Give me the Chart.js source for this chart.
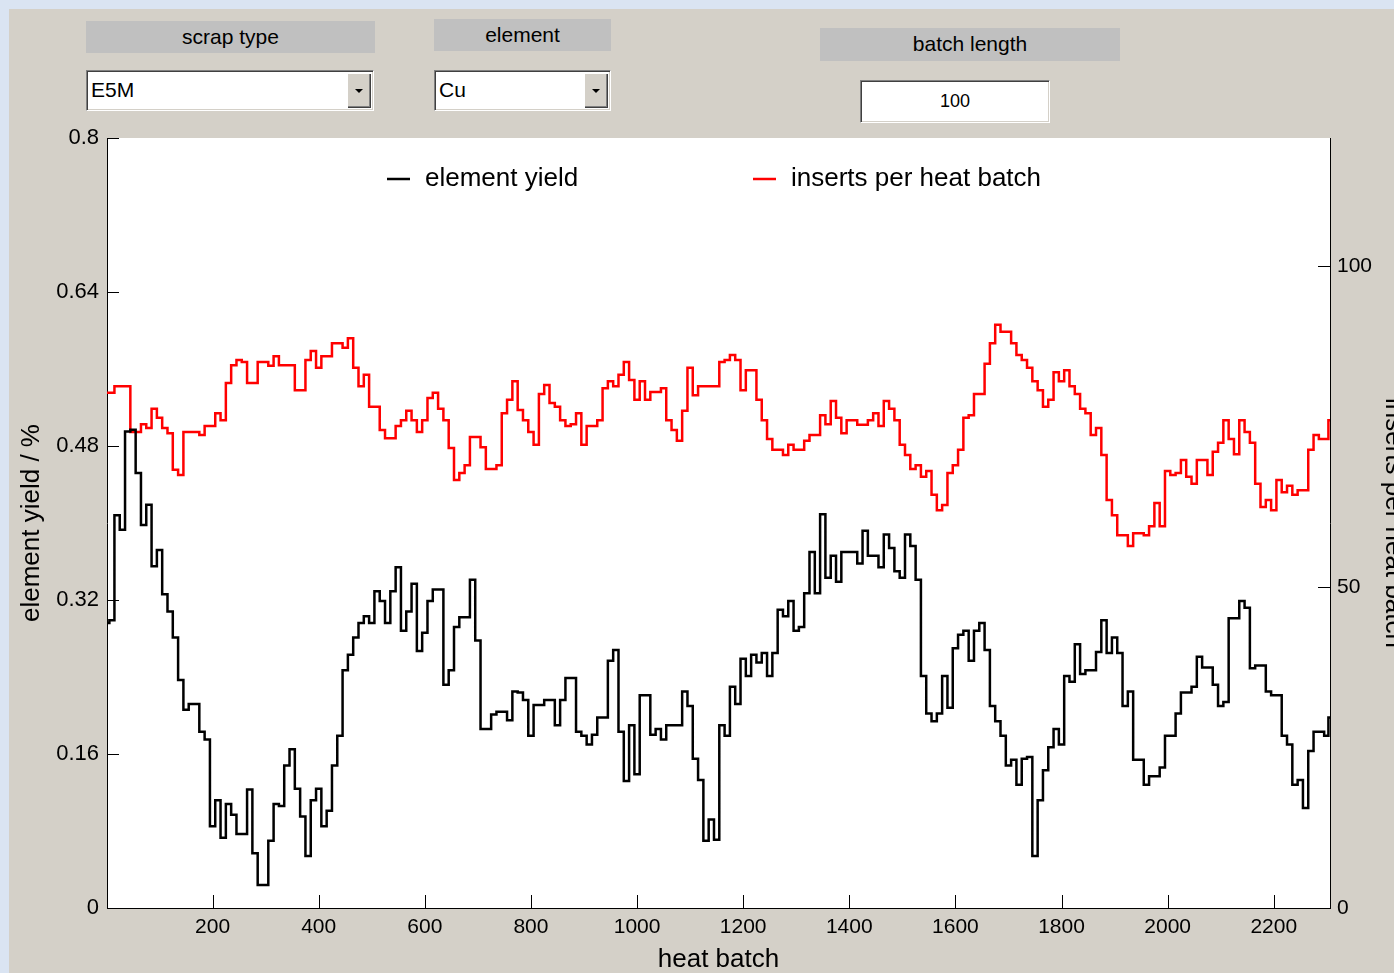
<!DOCTYPE html>
<html>
<head>
<meta charset="utf-8">
<title>Element yield per heat batch</title>
<script src="https://cdn.jsdelivr.net/npm/chart.js@4.4.1/dist/chart.umd.min.js"></script>
<style>
    body {
        margin: 0;
        width: 1394px;
        height: 973px;
        overflow: hidden;
        background: #dae4f2;
        font-family: "Liberation Sans", Arial, sans-serif;
    }
    .panel {
        position: absolute;
        left: 9px;
        top: 9px;
        right: 0;
        bottom: 0;
        background: #d4d0c8;
    }
    .lbl {
        position: absolute;
        background: #c0c0c0;
        font-size: 21px;
        color: #000;
        text-align: center;
        line-height: 32px;
    }
    .popup, .edit {
        position: absolute;
        background: #fff;
        box-sizing: border-box;
        border-top: 1px solid #808080;
        border-left: 1px solid #808080;
        border-right: 1px solid #fff;
        border-bottom: 1px solid #fff;
        box-shadow: inset 1px 1px 0 #404040, inset -1px -1px 0 #d4d0c8;
        font-size: 21px;
        color: #000;
    }
    .popup span {
        position: absolute;
        left: 4px;
        top: 7px;
    }
    .popup .arrow {
        position: absolute;
        right: 2px;
        top: 2px;
        bottom: 2px;
        width: 24px;
        background: #d4d0c8;
        box-shadow: inset 1px 1px 0 #fff, inset -1px -1px 0 #404040, inset -2px -2px 0 #808080;
    }
    .popup .arrow::after {
        content: "";
        position: absolute;
        left: 8px;
        top: 16px;
        border-left: 4px solid transparent;
        border-right: 4px solid transparent;
        border-top: 4px solid #000;
    }
    .edit {
        text-align: center;
        font-size: 18px;
        line-height: 40px;
    }
    #yieldChart {
        position: absolute;
        left: 0;
        top: 0;
    }
</style>
</head>
<body>
<div class="panel"></div>

<div class="lbl" style="left:86px; top:21px; width:289px; height:32px;">scrap type</div>
<div class="popup" style="left:86px; top:70px; width:288px; height:41px;"><span>E5M</span><div class="arrow"></div></div>

<div class="lbl" style="left:434px; top:19px; width:177px; height:32px;">element</div>
<div class="popup" style="left:434px; top:70px; width:177px; height:41px;"><span>Cu</span><div class="arrow"></div></div>

<div class="lbl" style="left:820px; top:28px; width:300px; height:33px;">batch length</div>
<div class="edit" style="left:860px; top:80px; width:190px; height:43px;">100</div>

<canvas id="yieldChart" width="1420" height="973"></canvas>

<script>
// heat batch positions of the sampled moving-window values
const heatBatch = [
    1, 10, 20, 30, 40, 50, 60, 70, 80, 90,
    100, 110, 120, 130, 140, 150, 160, 170, 180, 190,
    200, 210, 220, 230, 240, 250, 260, 270, 280, 290,
    300, 310, 320, 330, 340, 350, 360, 370, 380, 390,
    400, 410, 420, 430, 440, 450, 460, 470, 480, 490,
    500, 510, 520, 530, 540, 550, 560, 570, 580, 590,
    600, 610, 620, 630, 640, 650, 660, 670, 680, 690,
    700, 710, 720, 730, 740, 750, 760, 770, 780, 790,
    800, 810, 820, 830, 840, 850, 860, 870, 880, 890,
    900, 910, 920, 930, 940, 950, 960, 970, 980, 990,
    1000, 1010, 1020, 1030, 1040, 1050, 1060, 1070, 1080, 1090,
    1100, 1110, 1120, 1130, 1140, 1150, 1160, 1170, 1180, 1190,
    1200, 1210, 1220, 1230, 1240, 1250, 1260, 1270, 1280, 1290,
    1300, 1310, 1320, 1330, 1340, 1350, 1360, 1370, 1380, 1390,
    1400, 1410, 1420, 1430, 1440, 1450, 1460, 1470, 1480, 1490,
    1500, 1510, 1520, 1530, 1540, 1550, 1560, 1570, 1580, 1590,
    1600, 1610, 1620, 1630, 1640, 1650, 1660, 1670, 1680, 1690,
    1700, 1710, 1720, 1730, 1740, 1750, 1760, 1770, 1780, 1790,
    1800, 1810, 1820, 1830, 1840, 1850, 1860, 1870, 1880, 1890,
    1900, 1910, 1920, 1930, 1940, 1950, 1960, 1970, 1980, 1990,
    2000, 2010, 2020, 2030, 2040, 2050, 2060, 2070, 2080, 2090,
    2100, 2110, 2120, 2130, 2140, 2150, 2160, 2170, 2180, 2190,
    2200, 2210, 2220, 2230, 2240, 2250, 2260, 2270, 2280, 2290,
    2300, 2306
];

// element yield / %
const elementYield = [
    0.296, 0.299, 0.408, 0.393, 0.495, 0.497, 0.452, 0.398, 0.419, 0.355,
    0.372, 0.326, 0.308, 0.281, 0.237, 0.206, 0.212, 0.212, 0.183, 0.175,
    0.085, 0.112, 0.073, 0.108, 0.097, 0.077, 0.077, 0.123, 0.057, 0.024,
    0.024, 0.070, 0.108, 0.106, 0.148, 0.165, 0.124, 0.095, 0.054, 0.112,
    0.124, 0.085, 0.101, 0.148, 0.179, 0.247, 0.263, 0.281, 0.296, 0.303,
    0.296, 0.329, 0.319, 0.296, 0.329, 0.354, 0.288, 0.308, 0.337, 0.267,
    0.286, 0.319, 0.331, 0.331, 0.232, 0.247, 0.292, 0.302, 0.302, 0.341,
    0.278, 0.186, 0.186, 0.201, 0.204, 0.204, 0.195, 0.225, 0.224, 0.216,
    0.179, 0.211, 0.211, 0.216, 0.216, 0.190, 0.216, 0.239, 0.239, 0.183,
    0.179, 0.170, 0.180, 0.198, 0.198, 0.257, 0.268, 0.183, 0.132, 0.190,
    0.139, 0.221, 0.221, 0.180, 0.186, 0.175, 0.190, 0.190, 0.190, 0.225,
    0.210, 0.155, 0.133, 0.070, 0.092, 0.071, 0.190, 0.179, 0.230, 0.212,
    0.259, 0.241, 0.263, 0.255, 0.265, 0.241, 0.265, 0.310, 0.303, 0.319,
    0.288, 0.292, 0.327, 0.370, 0.327, 0.409, 0.343, 0.366, 0.339, 0.370,
    0.370, 0.370, 0.358, 0.392, 0.366, 0.366, 0.354, 0.388, 0.374, 0.350,
    0.343, 0.388, 0.376, 0.341, 0.241, 0.202, 0.194, 0.202, 0.241, 0.208,
    0.270, 0.284, 0.288, 0.257, 0.288, 0.296, 0.268, 0.210, 0.194, 0.179,
    0.148, 0.154, 0.128, 0.155, 0.157, 0.054, 0.112, 0.143, 0.167, 0.186,
    0.170, 0.241, 0.235, 0.274, 0.243, 0.247, 0.247, 0.266, 0.299, 0.265,
    0.281, 0.265, 0.210, 0.225, 0.154, 0.154, 0.128, 0.137, 0.137, 0.146,
    0.179, 0.179, 0.202, 0.224, 0.224, 0.230, 0.261, 0.250, 0.250, 0.232,
    0.210, 0.214, 0.301, 0.301, 0.319, 0.312, 0.249, 0.252, 0.252, 0.225,
    0.221, 0.221, 0.179, 0.170, 0.128, 0.133, 0.104, 0.163, 0.183, 0.183,
    0.179, 0.198
];

// inserts per heat batch
const insertsPerBatch = [
    80.3, 80.3, 81.3, 81.3, 81.3, 74.2, 74.2, 75.4, 74.8, 77.8,
    76.4, 74.8, 74.0, 68.3, 67.5, 74.2, 74.2, 74.2, 73.7, 75.1,
    75.1, 77.1, 76.0, 81.8, 84.6, 85.4, 85.1, 81.8, 81.8, 85.1,
    85.1, 84.5, 86.0, 84.6, 84.6, 84.6, 80.7, 80.7, 85.4, 86.8,
    84.2, 86.0, 86.0, 88.0, 88.0, 87.3, 88.8, 84.2, 81.3, 83.1,
    78.1, 78.1, 74.5, 73.2, 73.2, 75.1, 76.0, 77.5, 76.0, 74.2,
    76.0, 79.5, 80.3, 77.8, 76.0, 71.7, 66.7, 67.8, 69.0, 73.4,
    73.4, 71.8, 68.4, 68.4, 69.0, 77.1, 79.2, 82.1, 77.6, 76.0,
    74.2, 72.2, 80.1, 81.5, 78.7, 78.1, 76.0, 75.1, 75.4, 77.1,
    72.2, 75.1, 75.1, 76.0, 81.0, 82.1, 81.3, 83.1, 85.1, 82.3,
    79.2, 82.1, 79.2, 80.4, 80.4, 81.0, 76.0, 74.5, 72.8, 77.5,
    84.2, 79.9, 81.3, 81.3, 81.3, 81.3, 85.1, 85.4, 86.2, 85.4,
    80.7, 83.8, 83.8, 79.2, 76.0, 73.1, 71.4, 71.4, 70.6, 72.2,
    71.4, 71.4, 72.8, 73.7, 73.7, 76.8, 75.4, 79.0, 76.4, 74.0,
    76.0, 76.0, 75.3, 75.3, 76.0, 77.1, 75.1, 79.0, 77.8, 76.0,
    72.2, 70.6, 68.4, 69.0, 67.2, 68.1, 64.4, 62.0, 62.8, 67.8,
    69.0, 71.4, 76.4, 76.8, 80.1, 80.1, 84.8, 88.0, 90.9, 89.8,
    89.8, 88.0, 86.2, 85.4, 84.2, 82.1, 80.7, 78.1, 79.2, 83.5,
    82.1, 83.8, 81.3, 80.1, 77.8, 77.1, 73.7, 74.8, 70.6, 63.6,
    61.2, 58.1, 58.1, 56.4, 58.4, 58.4, 58.1, 59.5, 63.1, 59.5,
    68.1, 67.5, 67.8, 69.8, 67.2, 66.1, 69.8, 69.8, 67.5, 71.1,
    72.5, 76.0, 73.1, 70.7, 76.0, 74.2, 72.5, 66.1, 62.5, 63.6,
    62.0, 66.7, 64.8, 65.8, 64.4, 65.1, 65.1, 71.4, 73.7, 73.1,
    73.1, 76.0
];

// axis tick values
const batchTicks = [200, 400, 600, 800, 1000, 1200, 1400, 1600, 1800, 2000, 2200];
const yieldTicks = [0, 0.16, 0.32, 0.48, 0.64, 0.8];
const insertTicks = [0, 50, 100];

const FONT = '"Liberation Sans", Arial, sans-serif';

function toPoints(values) {
    return values.map((v, i) => ({ x: heatBatch[i], y: v }));
}

// white plot box behind the traces
const plotBackground = {
    id: 'plotBackground',
    beforeDraw(chart) {
        const { ctx, chartArea: a } = chart;
        ctx.save();
        ctx.fillStyle = '#fff';
        ctx.fillRect(a.left, a.top, a.right - a.left, a.bottom - a.top);
        ctx.restore();
    }
};

// tick marks pointing into the plot box
const insideTicks = {
    id: 'insideTicks',
    afterDraw(chart) {
        const { ctx, chartArea: a, scales } = chart;
        ctx.save();
        ctx.strokeStyle = '#000';
        ctx.lineWidth = 1;
        ctx.beginPath();
        scales.x.ticks.forEach(t => {
            const px = Math.round(scales.x.getPixelForValue(t.value)) + 0.5;
            ctx.moveTo(px, a.bottom);
            ctx.lineTo(px, a.bottom - 13);
        });
        scales.y.ticks.forEach(t => {
            const py = Math.round(scales.y.getPixelForValue(t.value)) + 0.5;
            ctx.moveTo(a.left, py);
            ctx.lineTo(a.left + 12, py);
        });
        scales.y1.ticks.forEach(t => {
            const py = Math.round(scales.y1.getPixelForValue(t.value)) + 0.5;
            ctx.moveTo(a.right, py);
            ctx.lineTo(a.right - 12, py);
        });
        ctx.stroke();
        ctx.restore();
    }
};

// legend drawn inside the plot box, line samples with labels
const lineLegend = {
    id: 'lineLegend',
    afterDraw(chart, args, opts) {
        const { ctx, chartArea: a } = chart;
        ctx.save();
        ctx.font = '26px ' + FONT;
        ctx.textBaseline = 'middle';
        chart.data.datasets.forEach((ds, i) => {
            const x = a.left + opts.offsets[i];
            const y = a.top + opts.top;
            ctx.strokeStyle = ds.borderColor;
            ctx.lineWidth = 2.5;
            ctx.beginPath();
            ctx.moveTo(x, y);
            ctx.lineTo(x + 23, y);
            ctx.stroke();
            ctx.fillStyle = '#000';
            ctx.fillText(ds.label, x + 38, y);
        });
        ctx.restore();
    }
};

const tickFont = { family: FONT, size: 21 };
const titleFont = { family: FONT, size: 26, lineHeight: 1 };

new Chart(document.getElementById('yieldChart'), {
    type: 'line',
    data: {
        datasets: [{
            label: 'element yield',
            data: toPoints(elementYield),
            borderColor: '#000000',
            borderWidth: 2.5,
            pointRadius: 0,
            stepped: 'middle',
            yAxisID: 'y'
        }, {
            label: 'inserts per heat batch',
            data: toPoints(insertsPerBatch),
            borderColor: '#ff0000',
            borderWidth: 2.5,
            pointRadius: 0,
            stepped: 'middle',
            yAxisID: 'y1'
        }]
    },
    options: {
        responsive: false,
        animation: false,
        devicePixelRatio: 1,
        layout: { padding: { top: 138, left: 0, right: 0, bottom: 0 } },
        plugins: {
            legend: { display: false },
            tooltip: { enabled: false },
            lineLegend: { offsets: [280, 646], top: 41 }
        },
        scales: {
            x: {
                type: 'linear',
                min: 1,
                max: 2306,
                grid: { display: false, drawTicks: false },
                border: { display: true, color: '#000', width: 1 },
                afterFit: s => { s.height = 65; },
                afterBuildTicks: s => { s.ticks = batchTicks.map(v => ({ value: v })); },
                ticks: { font: tickFont, color: '#000', padding: 7, maxRotation: 0, autoSkip: false, callback: v => String(v) },
                title: { display: true, text: 'heat batch', font: titleFont, color: '#000', padding: 0 }
            },
            y: {
                position: 'left',
                min: 0,
                max: 0.8,
                grid: { display: false, drawTicks: false },
                border: { display: true, color: '#000', width: 1 },
                afterFit: s => { s.width = 107; },
                afterBuildTicks: s => { s.ticks = yieldTicks.map(v => ({ value: v })); },
                ticks: { font: { family: FONT, size: 22 }, color: '#000', padding: 8, callback: v => String(v) },
                title: { display: true, text: 'element yield / %', font: titleFont, color: '#000', padding: { top: 19, bottom: 0 } }
            },
            y1: {
                position: 'right',
                min: 0,
                max: 120,
                grid: { display: false, drawTicks: false },
                border: { display: true, color: '#000', width: 1 },
                afterFit: s => { s.width = 90; },
                afterBuildTicks: s => { s.ticks = insertTicks.map(v => ({ value: v })); },
                ticks: { font: tickFont, color: '#000', padding: 7, callback: v => String(v) },
                title: { display: true, text: 'inserts per heat batch', font: titleFont, color: '#000', padding: { top: 14, bottom: 0 } }
            }
        }
    },
    plugins: [plotBackground, insideTicks, lineLegend]
});
</script>
</body>
</html>
